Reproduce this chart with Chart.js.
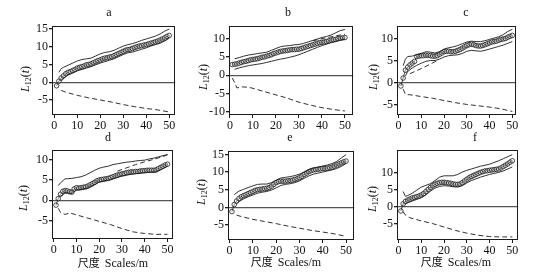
<!DOCTYPE html>
<html>
<head>
<meta charset="utf-8">
<script src="https://cdn.jsdelivr.net/npm/chart.js@4/dist/chart.umd.min.js"></script>
<style>
  html, body { margin: 0; padding: 0; background: #fff; }
  #fig { position: relative; width: 551px; height: 279px; overflow: hidden; background: #fff; }
  #fig canvas { position: absolute; }
  .lbl { position: absolute; font-family: "Liberation Serif", "DejaVu Serif", serif; font-size: 12px; color: #111; white-space: nowrap; transform: translate(-50%, -50%); }
  .ylab { transform: translate(-50%, -50%) rotate(-90deg); }
  .ylab sub { font-size: 8px; vertical-align: -2px; }
  .cjk { font-family: "Noto Sans CJK SC", sans-serif; font-size: 11px; margin-right: 5px; }
</style>
</head>
<body>
<div id="fig"></div>
<script>
/* Six L12(t) panels: observed (circles), envelopes (solid), null-model bounds (dashed). */
const OBS_X = [1,2,3,4,5,6,7,8,9,10, 11,12,13,14,15,16,17,18,19,20, 21,22,23,24,25,26,27,28,29,30,
  31,32,33,34,35,36,37,38,39,40, 41,42,43,44,45,46,47,48,49,50];
const X_TICKS = [0, 10, 20, 30, 40, 50];

// panel a
const A_OBS = [-1.0,0.3,1.2,1.8,2.4,2.8,3.0,3.3,3.6,4.0, 4.2,4.4,4.6,4.9,5.0,5.2,5.5,5.8,6.1,6.3,
  6.6,6.8,6.9,7.1,7.2,7.5,7.8,8.1,8.4,8.7, 9.0,9.2,9.3,9.5,9.8,10.0,10.2,10.3,10.5,10.6, 10.8,11.0,11.2,11.4,11.6,11.9,12.2,12.5,12.9,13.2];
const A_UP = [[2,2.8],[3,3.8],[4,4.2],[6,4.8],[8,5.4],[10,6.0],[12,6.4],[14,6.6],[16,6.8],[18,7.4],[20,8.0],[22,8.4],[24,8.6],
  [26,9.0],[28,9.6],[30,10.2],[32,10.6],[34,10.9],[36,11.3],[38,11.8],[40,12.2],[42,12.6],[44,13.0],[46,13.6],[48,14.4],[50,15.0]];
const A_LO = [[3,0.5],[4,1.2],[6,2.0],[8,2.6],[10,3.2],[12,3.6],[14,4.0],[16,4.4],[18,4.9],[20,5.4],[22,5.8],[24,6.2],[26,6.6],
  [28,7.2],[30,7.8],[32,8.3],[34,8.5],[36,8.9],[38,9.3],[40,9.7],[42,10.2],[44,10.6],[46,11.0],[48,11.6],[50,12.4]];
const A_DUP = [];
const A_DLO = [[3,-2.3],[5,-2.8],[10,-3.7],[15,-4.4],[20,-5.0],[25,-5.6],[30,-6.3],[35,-6.9],[40,-7.4],[45,-7.8],[50,-8.4]];
const A_YT = [-5, 0, 5, 10, 15];

// panel b
const B_OBS = [2.9,3.0,3.1,3.3,3.5,3.7,3.8,4.0,4.2,4.3, 4.4,4.5,4.7,4.9,5.0,5.2,5.4,5.6,5.9,6.1,
  6.3,6.5,6.6,6.7,6.8,6.9,7.0,7.0,7.1,7.1, 7.3,7.5,7.7,7.9,8.1,8.3,8.5,8.7,8.9,9.0, 9.1,9.2,9.4,9.6,9.7,9.8,10.0,10.1,10.2,10.3];
const B_UP = [[2,4.5],[4,4.8],[6,5.2],[8,5.5],[10,5.7],[12,5.9],[14,6.1],[16,6.3],[18,6.8],[20,7.3],[22,7.8],[24,8.0],[26,8.1],
  [28,8.3],[30,8.4],[32,8.7],[34,9.1],[36,9.5],[38,9.9],[40,10.3],[42,10.6],[44,11.0],[46,11.6],[48,12.2],[50,12.5]];
const B_LO = [[2,1.6],[4,2.0],[6,2.3],[8,2.6],[10,2.8],[12,3.0],[14,3.2],[16,3.5],[18,3.8],[20,4.1],[22,4.4],[24,4.6],[26,4.9],
  [28,5.2],[30,5.6],[32,6.1],[34,6.6],[36,7.1],[38,7.6],[40,8.1],[42,8.5],[44,8.9],[46,9.2],[48,9.6],[50,9.9]];
const B_DUP = [[36,9.4],[40,10.0],[44,10.5],[48,11.0],[50,11.2]];
const B_DLO = [[1,-0.8],[2,-2.0],[3,-3.5],[5,-3.2],[8,-3.3],[10,-3.6],[15,-4.5],[20,-5.4],[25,-6.3],[30,-7.4],[35,-8.2],[40,-8.9],[45,-9.4],[50,-9.8]];
const B_YT = [-10, -5, 0, 5, 10];

// panel c
const C_OBS = [-0.8,1.0,2.8,3.5,4.0,4.4,4.8,5.9,6.0,6.1, 6.1,6.2,6.2,6.1,6.0,6.0,6.1,6.4,6.7,7.0,
  7.1,7.1,7.0,7.0,7.1,7.3,7.5,7.8,8.1,8.4, 8.6,8.7,8.6,8.4,8.3,8.3,8.4,8.6,8.8,9.0, 9.2,9.3,9.4,9.6,9.8,9.9,10.0,10.3,10.5,10.7];
const C_UP = [[2,3.8],[3,5.3],[4,5.9],[6,6.0],[8,6.3],[10,6.6],[12,7.0],[14,6.9],[16,6.7],[18,7.0],[20,7.6],[22,7.9],[24,8.1],
  [26,8.4],[28,8.8],[30,9.2],[32,9.4],[34,9.3],[36,9.3],[38,9.5],[40,9.8],[42,10.1],[44,10.4],[46,10.9],[48,11.6],[50,12.1]];
const C_LO = [[3,1.5],[4,2.5],[6,3.3],[8,3.9],[10,4.4],[12,4.8],[14,5.0],[16,5.0],[18,5.3],[20,5.8],[22,6.1],[24,6.2],[26,6.3],
  [28,6.6],[30,7.1],[32,7.3],[34,7.2],[36,7.1],[38,7.3],[40,7.6],[42,7.9],[44,8.2],[46,8.5],[48,8.9],[50,9.3]];
const C_DUP = [[5,2.0],[8,2.7],[11,3.4],[14,4.2],[17,5.0]];
const C_DLO = [[2,-1.5],[3,-2.7],[5,-2.8],[10,-3.2],[15,-3.6],[20,-4.1],[25,-4.6],[30,-5.0],[35,-5.3],[40,-5.6],[45,-6.0],[50,-6.6]];
const C_YT = [-5, 0, 5, 10];

// panel d
const D_OBS = [-1.2,0.4,1.5,2.2,2.4,2.3,2.1,2.0,2.8,3.1, 3.0,3.1,3.2,3.3,3.5,3.8,4.1,4.4,4.8,5.0,
  5.1,5.2,5.3,5.4,5.6,5.8,6.0,6.2,6.4,6.5, 6.6,6.8,6.9,7.0,7.0,7.1,7.1,7.2,7.3,7.3, 7.4,7.4,7.4,7.4,7.5,7.8,8.1,8.4,8.7,8.9];
const D_UP = [[2,3.6],[3,4.3],[4,4.8],[5,5.3],[6,5.3],[8,5.4],[10,5.6],[12,5.8],[14,6.2],[16,6.8],[18,7.4],[20,7.9],[22,8.2],
  [24,8.4],[26,8.8],[28,9.0],[30,9.2],[32,9.4],[34,9.5],[36,9.7],[38,9.8],[40,9.9],[42,10.2],[44,10.4],[46,10.7],[48,11.0],[50,11.3]];
const D_LO = [[3,1.0],[5,1.8],[8,1.7],[10,2.5],[15,3.0],[20,4.5],[25,5.1],[30,6.0],[35,6.5],[40,6.8],[45,7.0],[50,8.4]];
const D_DUP = [[28,7.2],[32,8.0],[36,8.8],[40,9.5],[44,10.1],[48,10.8],[50,11.2]];
const D_DLO = [[2,-2.0],[3,-3.0],[5,-3.5],[7,-3.1],[10,-3.6],[15,-4.4],[20,-5.2],[25,-6.0],[30,-7.0],[35,-7.8],[40,-8.2],[45,-8.4],[50,-8.4]];
const D_YT = [-5, 0, 5, 10];

// panel e
const E_OBS = [-1.2,0.8,1.8,2.5,3.0,3.3,3.6,3.9,4.2,4.5, 4.8,5.0,5.1,5.2,5.3,5.4,5.6,6.0,6.5,7.0,
  7.3,7.4,7.4,7.4,7.5,7.6,7.7,7.9,8.1,8.4, 8.8,9.3,9.7,10.1,10.4,10.6,10.7,10.8,10.9,11.0, 11.0,11.1,11.2,11.4,11.7,12.0,12.3,12.6,12.9,13.1];
const E_UP = [[2,3.6],[4,4.6],[6,5.1],[8,5.6],[10,6.1],[12,6.5],[14,6.6],[16,6.6],[18,7.0],[20,7.7],[22,8.3],[24,8.5],[26,8.7],
  [28,9.0],[30,9.4],[32,10.0],[34,10.6],[36,11.1],[38,11.4],[40,11.7],[42,12.0],[44,12.4],[46,13.0],[48,14.0],[50,14.9]];
const E_LO = [[3,1.0],[4,1.6],[6,2.4],[8,3.0],[10,3.5],[12,4.0],[14,4.3],[16,4.5],[18,4.9],[20,5.5],[22,6.2],[24,6.5],[26,6.7],
  [28,7.0],[30,7.5],[32,8.2],[34,8.9],[36,9.4],[38,9.7],[40,10.0],[42,10.3],[44,10.6],[46,11.0],[48,11.6],[50,12.4]];
const E_DUP = [];
const E_DLO = [[3,-2.2],[5,-2.6],[10,-3.4],[15,-4.0],[20,-4.6],[25,-5.3],[30,-5.9],[35,-6.5],[40,-7.0],[45,-7.5],[50,-8.2]];
const E_YT = [-5, 0, 5, 10, 15];

// panel f
const F_OBS = [-1.3,0.8,1.5,1.9,2.2,2.5,2.7,2.9,3.1,3.4, 3.8,4.4,5.0,5.6,6.1,6.5,6.8,7.0,7.1,7.1,
  7.0,6.9,6.8,6.6,6.5,6.5,6.6,7.0,7.5,8.0, 8.4,8.8,9.1,9.4,9.7,10.0,10.2,10.4,10.5,10.6, 10.7,10.8,10.9,11.0,11.3,11.7,12.1,12.5,13.0,13.4];
const F_UP = [[2,4.4],[3,3.0],[4,3.2],[6,3.9],[8,4.8],[10,5.7],[12,6.2],[14,6.7],[16,7.6],[18,8.6],[20,9.0],[22,9.0],[24,9.0],
  [26,9.4],[28,10.1],[30,10.6],[32,11.0],[34,11.4],[36,11.8],[38,12.1],[40,12.4],[42,12.9],[44,13.4],[46,14.0],[48,14.6],[50,15.2]];
const F_LO = [[3,0.8],[4,1.1],[6,1.6],[8,2.1],[10,2.6],[12,3.4],[14,4.5],[16,5.4],[18,5.9],[20,6.1],[22,6.0],[24,5.8],[26,5.7],
  [28,6.1],[30,6.9],[32,7.6],[34,8.1],[36,8.6],[38,9.0],[40,9.4],[42,9.7],[44,10.0],[46,10.4],[48,11.0],[50,11.6]];
const F_DUP = [];
const F_DLO = [[2,-1.5],[3,-2.5],[5,-3.3],[10,-4.2],[15,-5.0],[20,-6.0],[25,-7.0],[30,-7.8],[35,-8.4],[40,-8.8],[45,-8.9],[50,-8.9]];
const F_YT = [-5, 0, 5, 10];

// plot boxes in page px [left, top, right, bottom] and axis ranges
const PANELS = [
  { name: "a", box: [52, 22, 176, 115], x: [-1.0, 52.6], y: [-9.24, 15.8], yt: A_YT, obs: A_OBS, up: A_UP, lo: A_LO, dup: A_DUP, dlo: A_DLO, title: [109, 12], ylab: [25, 79] },
  { name: "b", box: [229, 22, 354, 115], x: [-0.43, 53.6], y: [-10.9, 13.4], yt: B_YT, obs: B_OBS, up: B_UP, lo: B_LO, dup: B_DUP, dlo: B_DLO, title: [288, 12], ylab: [203, 77] },
  { name: "c", box: [397, 22, 517, 115], x: [-0.7, 51.7], y: [-7.4, 12.8], yt: C_YT, obs: C_OBS, up: C_UP, lo: C_LO, dup: C_DUP, dlo: C_DLO, title: [466, 12], ylab: [373, 77] },
  { name: "d", box: [52, 146, 174, 239], x: [-0.74, 52.5], y: [-9.55, 12.35], yt: D_YT, obs: D_OBS, up: D_UP, lo: D_LO, dup: D_DUP, dlo: D_DLO, title: [108, 137], ylab: [23, 198] },
  { name: "e", box: [228, 147, 355, 240], x: [-0.68, 53.5], y: [-9.24, 15.9], yt: E_YT, obs: E_OBS, up: E_UP, lo: E_LO, dup: E_DUP, dlo: E_DLO, title: [290, 137], ylab: [201, 192] },
  { name: "f", box: [397, 146, 519, 240], x: [-0.7, 52.6], y: [-9.8, 16.5], yt: F_YT, obs: F_OBS, up: F_UP, lo: F_LO, dup: F_DUP, dlo: F_DLO, title: [475, 137], ylab: [372, 199] },
];
const XLABELS = [[113, 262], [286, 261], [456, 261]];

const fig = document.getElementById("fig");
const INK = "#1c1c1c";
const SERIF = "'Liberation Serif', 'DejaVu Serif', serif";
const YW = 40, XH = 22, PAD = 4;
const pts = (arr) => arr.map(([x, y]) => ({ x, y }));

const frame = { id: "frame", afterDraw(chart) {
  const a = chart.chartArea, c = chart.ctx;
  c.save(); c.strokeStyle = INK; c.lineWidth = 1;
  c.strokeRect(Math.round(a.left) + 0.5, Math.round(a.top) + 0.5, Math.round(a.right - a.left) - 1, Math.round(a.bottom - a.top) - 1);
  c.restore();
} };

function label(html, x, y, cls) {
  const d = document.createElement("div");
  d.className = "lbl " + (cls || "");
  d.innerHTML = html; d.style.left = x + "px"; d.style.top = y + "px";
  fig.appendChild(d);
}

PANELS.forEach((p) => {
  const [L, T, R, B] = p.box;
  const cv = document.createElement("canvas");
  cv.width = R - L + YW + PAD; cv.height = B - T + PAD + XH;
  cv.style.left = (L - YW) + "px"; cv.style.top = (T - PAD) + "px";
  fig.appendChild(cv);

  const line = (data, dash) => ({ data: pts(data), borderColor: INK, borderWidth: 0.9, borderDash: dash || [], pointRadius: 0, fill: false, tension: 0 });
  new Chart(cv, {
    type: "line",
    data: { datasets: [
      line(p.up), line(p.lo), line(p.dup, [5, 3]), line(p.dlo, [5, 3]),
      { data: OBS_X.map((x, i) => ({ x, y: p.obs[i] })), borderColor: INK, borderWidth: 0.8, pointRadius: 2.3,
        pointBorderWidth: 0.8, pointBorderColor: INK, pointBackgroundColor: "rgba(255,255,255,0.3)", fill: false },
    ] },
    options: {
      responsive: false, animation: false, devicePixelRatio: 1,
      layout: { padding: { top: PAD, right: PAD, left: 0, bottom: 0 } },
      plugins: { legend: { display: false }, tooltip: { enabled: false } },
      scales: {
        x: { type: "linear", min: p.x[0], max: p.x[1],
          afterBuildTicks: (s) => { s.ticks = X_TICKS.map((v) => ({ value: v })); },
          afterFit: (s) => { s.height = XH; },
          border: { display: false },
          grid: { drawOnChartArea: false, tickLength: 3, tickColor: INK },
          ticks: { color: "#111", padding: 1, maxRotation: 0, font: { family: SERIF, size: 12 } } },
        y: { min: p.y[0], max: p.y[1],
          afterBuildTicks: (s) => { s.ticks = p.yt.map((v) => ({ value: v })); },
          afterFit: (s) => { s.width = YW; },
          border: { display: false },
          grid: { color: (c) => (c.tick && c.tick.value === 0 ? "#555" : "rgba(0,0,0,0)"), lineWidth: 1.3, tickLength: 3, tickColor: INK },
          ticks: { color: "#111", padding: 1, font: { family: SERIF, size: 12 } } },
      },
    },
    plugins: [frame],
  });

  label(p.name, p.title[0], p.title[1]);
  label("<i>L</i><sub>12</sub>(<i>t</i>)", p.ylab[0], p.ylab[1], "ylab");
});

XLABELS.forEach(([x, y]) => label('<span class="cjk">尺度</span>Scales/m', x, y));
</script>
</body>
</html>
